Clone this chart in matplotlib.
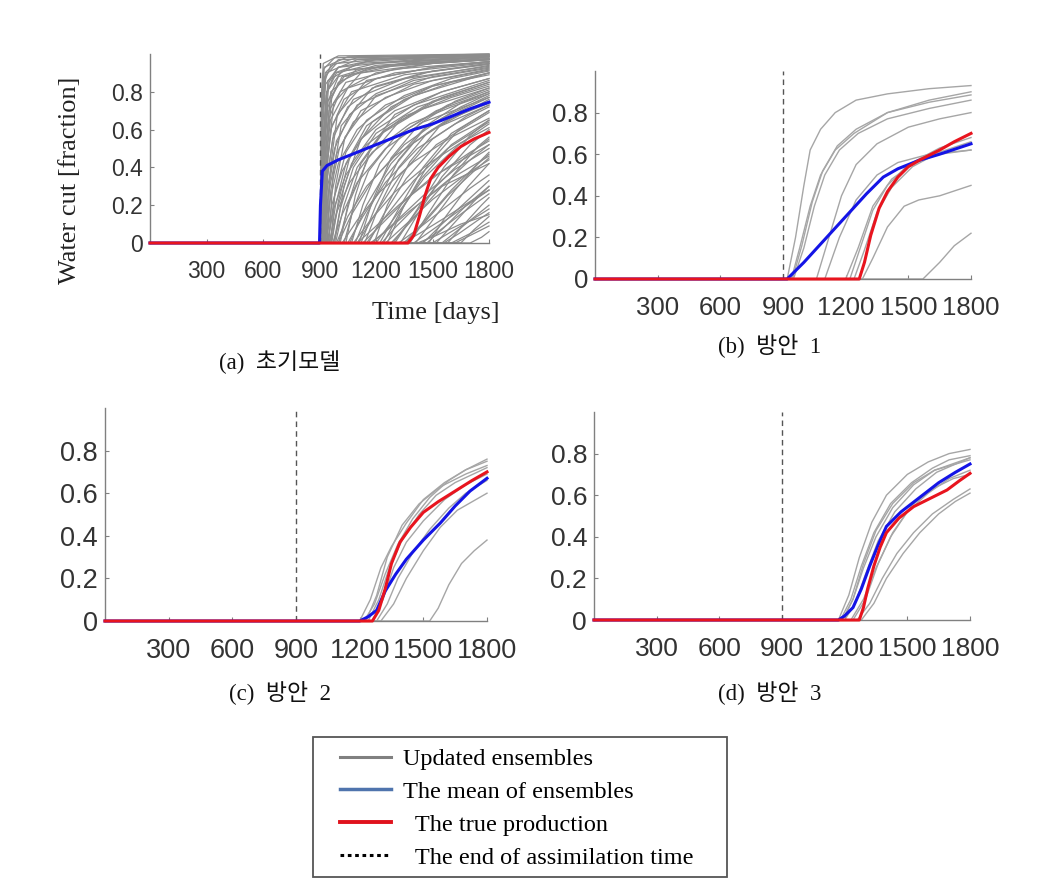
import matplotlib
matplotlib.use('Agg')
import matplotlib.pyplot as plt
from matplotlib.lines import Line2D
from matplotlib.patches import Rectangle

# ---------------- data ----------------
day_ticks = [300, 600, 900, 1200, 1500, 1800]
wc_ticks = [0, 0.2, 0.4, 0.6, 0.8]
wc_tick_labels = ['0', '0.2', '0.4', '0.6', '0.8']
end_assim = 900

captions = ['(a)  초기모델', '(b)  방안  1', '(c)  방안  2', '(d)  방안  3']
legend_labels = ['Updated ensembles', 'The mean of ensembles',
                 '  The true production', '  The end of assimilation time']

# (a) initial model ensemble (day, water cut) pairs
ens_a = [
    [(905, 0), (912, 0.6), (925, 0.85), (960, 0.94), (1100, 0.98), (1800, 0.995)],
    [(908, 0), (918, 0.5), (935, 0.78), (980, 0.9), (1150, 0.96), (1500, 0.98), (1800, 0.99)],
    [(910, 0), (922, 0.45), (945, 0.72), (1000, 0.85), (1150, 0.92), (1400, 0.96), (1800, 0.98)],
    [(912, 0), (925, 0.4), (950, 0.66), (1010, 0.8), (1200, 0.9), (1500, 0.95), (1800, 0.97)],
    [(906, 0), (915, 0.7), (930, 0.9), (1000, 0.97), (1800, 0.995)],
    [(915, 0), (930, 0.35), (960, 0.6), (1030, 0.76), (1200, 0.87), (1500, 0.93), (1800, 0.96)],
    [(918, 0), (935, 0.3), (970, 0.55), (1050, 0.72), (1200, 0.83), (1450, 0.9), (1800, 0.95)],
    [(910, 0), (920, 0.55), (940, 0.8), (990, 0.9), (1200, 0.95), (1800, 0.985)],
    [(920, 0), (940, 0.28), (980, 0.5), (1060, 0.68), (1200, 0.79), (1400, 0.87), (1800, 0.94)],
    [(925, 0), (945, 0.25), (990, 0.47), (1080, 0.64), (1250, 0.77), (1500, 0.86), (1800, 0.92)],
    [(913, 0), (925, 0.5), (945, 0.75), (1000, 0.88), (1200, 0.94), (1800, 0.975)],
    [(930, 0), (955, 0.22), (1000, 0.42), (1100, 0.6), (1250, 0.73), (1500, 0.83), (1800, 0.9)],
    [(935, 0), (965, 0.2), (1020, 0.38), (1120, 0.55), (1300, 0.7), (1550, 0.8), (1800, 0.87)],
    [(940, 0), (975, 0.18), (1040, 0.36), (1150, 0.52), (1350, 0.67), (1600, 0.77), (1800, 0.83)],
    [(950, 0), (990, 0.16), (1060, 0.32), (1180, 0.48), (1380, 0.63), (1600, 0.72), (1800, 0.79)],
    [(945, 0), (980, 0.25), (1040, 0.48), (1150, 0.65), (1350, 0.78), (1600, 0.87), (1800, 0.91)],
    [(960, 0), (1000, 0.2), (1070, 0.42), (1200, 0.6), (1400, 0.73), (1800, 0.86)],
    [(970, 0), (1020, 0.15), (1100, 0.32), (1250, 0.5), (1450, 0.64), (1800, 0.77)],
    [(990, 0), (1050, 0.14), (1150, 0.3), (1300, 0.46), (1500, 0.6), (1800, 0.73)],
    [(1000, 0), (1070, 0.15), (1180, 0.33), (1350, 0.52), (1550, 0.66), (1800, 0.78)],
    [(1020, 0), (1100, 0.12), (1220, 0.27), (1400, 0.43), (1600, 0.56), (1800, 0.66)],
    [(1050, 0), (1130, 0.14), (1250, 0.32), (1420, 0.5), (1620, 0.63), (1800, 0.72)],
    [(1080, 0), (1170, 0.12), (1300, 0.27), (1480, 0.42), (1650, 0.53), (1800, 0.61)],
    [(1100, 0), (1200, 0.16), (1330, 0.36), (1500, 0.55), (1680, 0.67), (1800, 0.73)],
    [(1130, 0), (1230, 0.1), (1370, 0.24), (1550, 0.38), (1700, 0.48), (1800, 0.54)],
    [(1150, 0), (1250, 0.14), (1400, 0.33), (1580, 0.5), (1800, 0.64)],
    [(1180, 0), (1290, 0.1), (1450, 0.25), (1620, 0.39), (1800, 0.5)],
    [(1200, 0), (1310, 0.15), (1460, 0.35), (1640, 0.52), (1800, 0.63)],
    [(1250, 0), (1360, 0.1), (1500, 0.23), (1660, 0.35), (1800, 0.44)],
    [(1280, 0), (1400, 0.13), (1550, 0.3), (1700, 0.44), (1800, 0.52)],
    [(1320, 0), (1430, 0.08), (1570, 0.19), (1700, 0.29), (1800, 0.36)],
    [(1350, 0), (1460, 0.12), (1600, 0.28), (1720, 0.4), (1800, 0.47)],
    [(1400, 0), (1500, 0.07), (1640, 0.17), (1800, 0.28)],
    [(1450, 0), (1550, 0.1), (1680, 0.22), (1800, 0.33)],
    [(1500, 0), (1600, 0.06), (1720, 0.13), (1800, 0.18)],
    [(1550, 0), (1650, 0.08), (1800, 0.2)],
    [(1600, 0), (1700, 0.05), (1800, 0.11)],
    [(1300, 0), (1420, 0.18), (1560, 0.4), (1700, 0.57), (1800, 0.65)],
    [(1060, 0), (1150, 0.2), (1280, 0.42), (1450, 0.6), (1650, 0.72), (1800, 0.79)],
    [(1000, 0), (1060, 0.22), (1160, 0.45), (1320, 0.64), (1550, 0.77), (1800, 0.85)],
    [(980, 0), (1030, 0.3), (1120, 0.55), (1280, 0.72), (1500, 0.83), (1800, 0.9)],
    [(1120, 0), (1200, 0.2), (1320, 0.44), (1480, 0.63), (1650, 0.74), (1800, 0.8)],
    [(1220, 0), (1320, 0.18), (1450, 0.4), (1600, 0.58), (1800, 0.7)],
    [(1380, 0), (1480, 0.16), (1610, 0.36), (1740, 0.51), (1800, 0.56)],
    [(1480, 0), (1570, 0.14), (1690, 0.3), (1800, 0.42)],
    [(920, 0), (930, 0.6), (950, 0.85), (1000, 0.93), (1200, 0.97), (1800, 0.99)],
    [(928, 0), (940, 0.5), (965, 0.77), (1020, 0.88), (1250, 0.94), (1800, 0.97)],
    [(1420, 0), (1520, 0.04), (1650, 0.1), (1800, 0.15)],
    [(904, 0), (910, 0.7), (922, 0.92), (980, 0.98), (1800, 1.0)],
    [(907, 0), (914, 0.65), (928, 0.88), (990, 0.95), (1300, 0.98), (1800, 0.99)],
    [(909, 0), (917, 0.6), (932, 0.84), (1000, 0.93), (1400, 0.97), (1800, 0.985)],
    [(911, 0), (920, 0.55), (938, 0.8), (1020, 0.91), (1400, 0.955), (1800, 0.975)],
    [(914, 0), (924, 0.5), (944, 0.75), (1030, 0.88), (1300, 0.94), (1800, 0.97)],
    [(916, 0), (928, 0.45), (950, 0.7), (1040, 0.85), (1300, 0.92), (1800, 0.96)],
    [(919, 0), (932, 0.4), (958, 0.65), (1050, 0.82), (1300, 0.9), (1800, 0.955)],
    [(922, 0), (936, 0.38), (965, 0.62), (1070, 0.8), (1350, 0.89), (1800, 0.945)],
    [(926, 0), (942, 0.35), (975, 0.58), (1080, 0.76), (1350, 0.87), (1800, 0.935)],
    [(932, 0), (950, 0.3), (990, 0.54), (1100, 0.73), (1400, 0.86), (1800, 0.925)],
    [(938, 0), (960, 0.28), (1005, 0.5), (1120, 0.7), (1400, 0.84), (1800, 0.915)],
    [(905, 0), (911, 0.8), (920, 0.95), (1000, 0.99), (1800, 1.0)],
    [(908, 0), (913, 0.75), (925, 0.93), (1050, 0.985), (1800, 0.998)],
    [(912, 0), (918, 0.7), (935, 0.9), (1100, 0.97), (1800, 0.99)],
    [(917, 0), (925, 0.6), (945, 0.86), (1100, 0.95), (1800, 0.985)],
    [(924, 0), (935, 0.5), (960, 0.8), (1100, 0.92), (1800, 0.975)],
    [(930, 0), (945, 0.45), (975, 0.74), (1120, 0.9), (1500, 0.95), (1800, 0.97)],
    [(940, 0), (958, 0.4), (995, 0.68), (1150, 0.86), (1500, 0.93), (1800, 0.96)],
    [(950, 0), (972, 0.36), (1015, 0.62), (1180, 0.82), (1500, 0.91), (1800, 0.95)],
    [(960, 0), (985, 0.3), (1035, 0.56), (1200, 0.78), (1500, 0.88), (1800, 0.93)],
    [(955, 0), (985, 0.2), (1040, 0.42), (1150, 0.62), (1350, 0.76), (1600, 0.85), (1800, 0.89)],
    [(965, 0), (1000, 0.22), (1060, 0.45), (1180, 0.64), (1400, 0.78), (1800, 0.9)],
    [(975, 0), (1010, 0.18), (1080, 0.4), (1200, 0.58), (1420, 0.72), (1800, 0.84)],
    [(985, 0), (1030, 0.2), (1100, 0.4), (1230, 0.58), (1450, 0.71), (1800, 0.82)],
    [(1010, 0), (1050, 0.2), (1120, 0.42), (1250, 0.6), (1500, 0.75), (1800, 0.85)],
    [(1030, 0), (1080, 0.18), (1160, 0.38), (1300, 0.56), (1520, 0.7), (1800, 0.8)],
    [(1040, 0), (1090, 0.25), (1170, 0.5), (1300, 0.68), (1550, 0.8), (1800, 0.87)],
    [(1070, 0), (1130, 0.2), (1220, 0.42), (1360, 0.6), (1580, 0.73), (1800, 0.81)],
    [(1090, 0), (1150, 0.15), (1250, 0.35), (1400, 0.53), (1600, 0.66), (1800, 0.74)],
    [(1110, 0), (1180, 0.22), (1280, 0.45), (1430, 0.63), (1620, 0.75), (1800, 0.82)],
    [(1140, 0), (1210, 0.18), (1320, 0.4), (1470, 0.58), (1650, 0.7), (1800, 0.77)],
    [(1160, 0), (1240, 0.15), (1360, 0.34), (1520, 0.52), (1800, 0.69)],
    [(1190, 0), (1260, 0.2), (1380, 0.43), (1540, 0.62), (1800, 0.76)],
    [(1240, 0), (1320, 0.15), (1440, 0.34), (1600, 0.52), (1800, 0.65)],
    [(1260, 0), (1350, 0.2), (1480, 0.42), (1640, 0.6), (1800, 0.7)],
    [(1290, 0), (1380, 0.12), (1510, 0.29), (1670, 0.45), (1800, 0.55)],
    [(1330, 0), (1420, 0.15), (1550, 0.35), (1700, 0.52), (1800, 0.6)],
    [(1360, 0), (1450, 0.1), (1580, 0.25), (1720, 0.38), (1800, 0.45)],
    [(1410, 0), (1500, 0.12), (1620, 0.28), (1750, 0.43), (1800, 0.48)],
    [(1440, 0), (1530, 0.06), (1660, 0.16), (1800, 0.26)],
    [(1470, 0), (1560, 0.08), (1680, 0.2), (1800, 0.3)],
    [(1520, 0), (1610, 0.1), (1720, 0.22), (1800, 0.3)],
    [(1560, 0), (1640, 0.05), (1740, 0.12), (1800, 0.16)],
    [(1580, 0), (1660, 0.09), (1760, 0.2), (1800, 0.24)],
    [(1620, 0), (1700, 0.04), (1800, 0.09)],
    [(1650, 0), (1720, 0.07), (1800, 0.14)],
    [(1700, 0), (1760, 0.03), (1800, 0.06)],
    [(1230, 0), (1300, 0.08), (1420, 0.2), (1580, 0.33), (1800, 0.46)],
    [(1170, 0), (1250, 0.06), (1380, 0.17), (1550, 0.3), (1800, 0.42)],
    [(1100, 0), (1190, 0.08), (1320, 0.2), (1500, 0.35), (1800, 0.52)],
    [(1340, 0), (1430, 0.05), (1560, 0.13), (1700, 0.22), (1800, 0.28)],
]
mean_a = [(0, 0), (900, 0), (905, 0.2), (915, 0.38), (940, 0.41), (1000, 0.44), (1100, 0.48),
          (1200, 0.52), (1300, 0.56), (1400, 0.60), (1500, 0.63), (1600, 0.67), (1700, 0.71),
          (1800, 0.745)]
true_a = [(0, 0), (1370, 0), (1400, 0.04), (1430, 0.14), (1460, 0.25), (1490, 0.34), (1530, 0.40),
          (1590, 0.46), (1650, 0.51), (1720, 0.55), (1800, 0.585)]

# (b) case 1
ens_b = [
    [(920, 0), (960, 0.2), (1000, 0.45), (1030, 0.62), (1080, 0.72), (1150, 0.80), (1250, 0.86),
     (1400, 0.89), (1600, 0.915), (1800, 0.93)],
    [(940, 0), (980, 0.15), (1030, 0.35), (1080, 0.50), (1150, 0.62), (1240, 0.70), (1400, 0.80),
     (1600, 0.86), (1800, 0.90)],
    [(950, 0), (1000, 0.15), (1050, 0.35), (1100, 0.50), (1170, 0.62), (1260, 0.70), (1400, 0.77),
     (1600, 0.82), (1800, 0.86)],
    [(945, 0), (990, 0.16), (1040, 0.37), (1090, 0.52), (1160, 0.64), (1250, 0.72), (1400, 0.80),
     (1600, 0.85), (1800, 0.885)],
    [(1060, 0), (1120, 0.2), (1180, 0.4), (1250, 0.55), (1350, 0.65), (1500, 0.73), (1650, 0.77),
     (1800, 0.80)],
    [(1100, 0), (1170, 0.2), (1250, 0.38), (1350, 0.50), (1450, 0.56), (1600, 0.60), (1800, 0.62)],
    [(1220, 0), (1270, 0.15), (1330, 0.33), (1400, 0.45), (1500, 0.55), (1650, 0.63), (1800, 0.68)],
    [(1240, 0), (1290, 0.14), (1350, 0.32), (1420, 0.44), (1520, 0.54), (1650, 0.61), (1800, 0.66)],
    [(1200, 0), (1260, 0.15), (1330, 0.35), (1420, 0.48), (1530, 0.56), (1650, 0.60), (1800, 0.62)],
    [(1280, 0), (1330, 0.1), (1400, 0.25), (1480, 0.35), (1550, 0.38), (1650, 0.40), (1800, 0.45)],
    [(1570, 0), (1650, 0.08), (1720, 0.16), (1800, 0.22)],
]
mean_b = [(0, 0), (920, 0), (1000, 0.08), (1100, 0.19), (1200, 0.30), (1300, 0.41), (1380, 0.49),
          (1450, 0.53), (1550, 0.57), (1650, 0.60), (1800, 0.65)]
true_b = [(0, 0), (1265, 0), (1290, 0.08), (1320, 0.21), (1360, 0.34), (1400, 0.42), (1450, 0.49),
          (1500, 0.54), (1560, 0.575), (1650, 0.62), (1720, 0.66), (1800, 0.70)]

# (c) case 2
ens_c = [
    [(1200, 0), (1250, 0.1), (1300, 0.25), (1350, 0.35), (1420, 0.46), (1500, 0.57), (1600, 0.65),
     (1700, 0.71), (1800, 0.76)],
    [(1220, 0), (1270, 0.08), (1320, 0.22), (1380, 0.36), (1450, 0.48), (1530, 0.58), (1620, 0.66),
     (1700, 0.71), (1800, 0.75)],
    [(1240, 0), (1290, 0.1), (1340, 0.25), (1400, 0.38), (1480, 0.50), (1560, 0.59), (1650, 0.65),
     (1800, 0.72)],
    [(1260, 0), (1310, 0.1), (1360, 0.25), (1420, 0.37), (1500, 0.47), (1600, 0.57), (1700, 0.64),
     (1800, 0.69)],
    [(1280, 0), (1330, 0.08), (1380, 0.2), (1450, 0.32), (1530, 0.43), (1620, 0.53), (1700, 0.60),
     (1800, 0.66)],
    [(1300, 0), (1360, 0.08), (1420, 0.2), (1500, 0.33), (1580, 0.44), (1660, 0.52), (1800, 0.60)],
    [(1530, 0), (1570, 0.06), (1620, 0.17), (1680, 0.27), (1740, 0.33), (1800, 0.38)],
    [(1230, 0), (1280, 0.12), (1330, 0.3), (1400, 0.45), (1480, 0.55), (1580, 0.63), (1700, 0.69),
     (1800, 0.73)],
]
mean_c = [(0, 0), (1200, 0), (1240, 0.02), (1280, 0.05), (1320, 0.14), (1370, 0.22), (1420, 0.29),
          (1500, 0.38), (1580, 0.46), (1650, 0.54), (1720, 0.61), (1800, 0.67)]
true_c = [(0, 0), (1260, 0), (1290, 0.05), (1320, 0.15), (1350, 0.27), (1390, 0.37), (1440, 0.44),
          (1500, 0.51), (1570, 0.56), (1650, 0.61), (1730, 0.66), (1800, 0.70)]

# (d) case 3
ens_d = [
    [(1170, 0), (1220, 0.12), (1270, 0.3), (1330, 0.47), (1400, 0.6), (1500, 0.7), (1600, 0.76),
     (1700, 0.80), (1800, 0.82)],
    [(1180, 0), (1230, 0.1), (1280, 0.26), (1340, 0.42), (1420, 0.56), (1520, 0.66), (1620, 0.73),
     (1700, 0.77), (1800, 0.79)],
    [(1190, 0), (1240, 0.1), (1290, 0.25), (1350, 0.40), (1430, 0.54), (1530, 0.65), (1630, 0.72),
     (1800, 0.78)],
    [(1200, 0), (1250, 0.08), (1300, 0.22), (1360, 0.38), (1440, 0.52), (1540, 0.63), (1640, 0.71),
     (1800, 0.78)],
    [(1190, 0), (1240, 0.1), (1290, 0.27), (1350, 0.43), (1430, 0.56), (1530, 0.66), (1630, 0.72),
     (1800, 0.77)],
    [(1230, 0), (1290, 0.1), (1350, 0.25), (1420, 0.4), (1500, 0.52), (1600, 0.61), (1700, 0.68),
     (1800, 0.72)],
    [(1260, 0), (1320, 0.08), (1380, 0.2), (1450, 0.32), (1530, 0.42), (1620, 0.51), (1720, 0.58),
     (1800, 0.63)],
    [(1280, 0), (1340, 0.08), (1400, 0.2), (1480, 0.32), (1560, 0.42), (1650, 0.51), (1730, 0.57),
     (1800, 0.61)],
    [(1240, 0), (1300, 0.1), (1360, 0.27), (1430, 0.42), (1520, 0.55), (1620, 0.63), (1720, 0.68),
     (1800, 0.70)],
]
mean_d = [(0, 0), (1170, 0), (1200, 0.02), (1240, 0.06), (1280, 0.15), (1320, 0.26), (1360, 0.36),
          (1400, 0.45), (1470, 0.52), (1560, 0.59), (1650, 0.66), (1730, 0.71), (1800, 0.75)]
true_d = [(0, 0), (1270, 0), (1290, 0.06), (1310, 0.15), (1340, 0.26), (1370, 0.35), (1400, 0.42),
          (1460, 0.49), (1530, 0.545), (1600, 0.58), (1690, 0.625), (1750, 0.67), (1800, 0.705)]

# ---------------- styling / layout ----------------
W, H = 1045, 890
fig = plt.figure(figsize=(W / 100, H / 100), dpi=100)
fig.patch.set_facecolor('white')

def rect(l, t, r, b):
    return [l / W, 1 - b / H, (r - l) / W, (b - t) / H]

SERIF_KR = ['Liberation Serif', 'Noto Sans CJK KR']

panels = [
    dict(ens=ens_a, mean=mean_a, true=true_a, rect=rect(150, 54, 489, 243), fs=16.5,
         gray='#8c8c8c', glw=0.9, cap=(280, 362)),
    dict(ens=ens_b, mean=mean_b, true=true_b, rect=rect(595, 71, 971, 279), fs=18.5,
         gray='#a6a6a6', glw=1.0, cap=(770, 345)),
    dict(ens=ens_c, mean=mean_c, true=true_c, rect=rect(105, 408, 487, 621), fs=19.5,
         gray='#a6a6a6', glw=1.0, cap=(280, 692)),
    dict(ens=ens_d, mean=mean_d, true=true_d, rect=rect(594, 412, 970, 620), fs=19,
         gray='#a6a6a6', glw=1.0, cap=(770, 692)),
]

BLUE = '#1414e6'
RED = '#e8141e'

def xy(pairs):
    return [p[0] for p in pairs], [p[1] for p in pairs]

for i, p in enumerate(panels):
    ax = fig.add_axes(p['rect'])
    for curve in p['ens']:
        x, y = xy([(0, 0)] + curve)
        ax.plot(x, y, color=p['gray'], lw=p['glw'], zorder=2, clip_on=False)
    ax.axvline(end_assim, color='#555555', lw=1.0, ls=(0, (4, 3)), zorder=3)
    x, y = xy(p['mean'])
    ax.plot(x, y, color=BLUE, lw=2.2, zorder=4, clip_on=False)
    x, y = xy(p['true'])
    ax.plot(x, y, color=RED, lw=2.2, zorder=5, clip_on=False)

    ax.set_xlim(0, 1800)
    ax.set_ylim(0, 1.0)
    ax.set_xticks(day_ticks)
    ax.set_xticklabels([str(t) for t in day_ticks])
    ax.set_yticks(wc_ticks)
    ax.set_yticklabels(wc_tick_labels)
    for s in ('top', 'right'):
        ax.spines[s].set_visible(False)
    for s in ('left', 'bottom'):
        ax.spines[s].set_color('#808080')
        ax.spines[s].set_linewidth(1.0)
    ax.tick_params(axis='both', direction='in', length=3, width=0.8, color='#808080',
                   labelcolor='#333333', labelsize=p['fs'])
    ax.tick_params(axis='x', pad=12.5)
    ax.tick_params(axis='y', pad=5)
    for lab in ax.get_xticklabels() + ax.get_yticklabels():
        lab.set_fontfamily('Liberation Sans')
    ax.set_facecolor('none')

    if i == 0:
        ax.set_ylabel('Water cut [fraction]', fontfamily='Liberation Serif', fontsize=19,
                      color='#222222')
        ax.set_xlabel('Time [days]', fontfamily='Liberation Serif', fontsize=19,
                      color='#222222')
        ax.yaxis.set_label_coords(-0.236, 0.332)
        ax.yaxis.label.set_va('center')
        ax.xaxis.set_label_coords(1.032, -0.368)
        ax.xaxis.label.set_ha('right')
        ax.xaxis.label.set_va('center')

    cx, cy = p['cap']
    fig.text(cx / W, 1 - cy / H, captions[i], ha='center', va='center', fontsize=16.5,
             family=SERIF_KR, color='#111111')

# legend: frame box + frameless legend inside
fig.add_artist(Rectangle((313 / W, 1 - 877 / H), (727 - 313) / W, (877 - 737) / H,
                         transform=fig.transFigure, facecolor='white', edgecolor='#555555',
                         lw=1.3, zorder=1))
handles = [
    Line2D([], [], color='#808080', lw=2.2),
    Line2D([], [], color='#4f74ad', lw=2.5),
    Line2D([], [], color='#e0121c', lw=2.8),
    Line2D([], [], color='#000000', lw=2.2, ls=(0, (1.2, 1.2))),
]
leg = fig.legend(handles, legend_labels, loc='upper left', bbox_to_anchor=(340 / W, 1 - 748 / H),
                 frameon=False, prop=dict(family='Liberation Serif', size=17.5),
                 handlelength=2.1, handletextpad=0.5, labelspacing=0.45, borderpad=0,
                 borderaxespad=0)
leg.set_zorder(2)

fig.savefig('out.png', dpi=100, facecolor='white')
